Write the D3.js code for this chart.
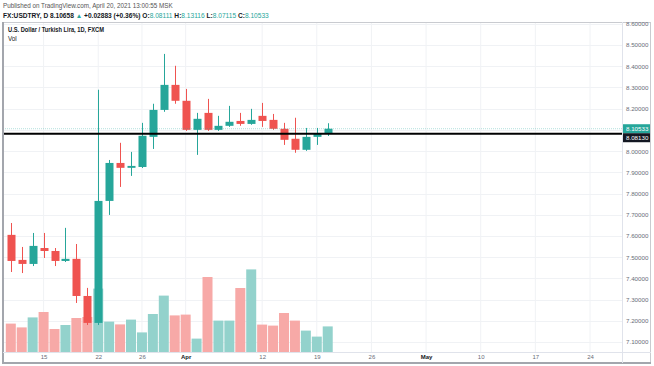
<!DOCTYPE html>
<html><head><meta charset="utf-8">
<script src="https://cdn.jsdelivr.net/npm/d3@7"></script>
<style>html,body{margin:0;padding:0;background:#fff;}svg{display:block;font-family:"Liberation Sans",Arial,sans-serif;}</style>
</head><body><svg id="c" width="654" height="366"></svg>
<script>
const dates = ["2021-03-10","2021-03-11","2021-03-12","2021-03-15","2021-03-16","2021-03-17","2021-03-18","2021-03-19",
"2021-03-22","2021-03-23","2021-03-24","2021-03-25","2021-03-26","2021-03-29","2021-03-30","2021-03-31","2021-04-01","2021-04-02",
"2021-04-05","2021-04-06","2021-04-07","2021-04-08","2021-04-09","2021-04-12","2021-04-13","2021-04-14","2021-04-15","2021-04-16",
"2021-04-19","2021-04-20"];
const opens  = [7.605,7.487,7.468,7.543,7.529,7.482,7.492,7.317,7.190,7.765,7.944,7.921,7.925,8.067,8.194,8.312,8.237,8.100,8.180,8.100,8.119,8.142,8.128,8.166,8.147,8.105,8.058,8.006,8.067,8.08111];
const highs  = [7.661,7.548,7.614,7.614,7.543,7.638,7.562,7.355,8.289,7.958,8.039,7.996,8.133,8.223,8.458,8.402,8.293,8.180,8.246,8.166,8.213,8.180,8.199,8.227,8.175,8.133,8.157,8.109,8.109,8.13116];
const lows   = [7.430,7.425,7.458,7.496,7.458,7.477,7.284,7.180,7.180,7.699,7.831,7.883,7.920,8.010,8.185,8.223,8.095,7.982,8.095,8.095,8.114,8.119,8.124,8.114,8.100,8.029,7.992,8.001,8.029,8.07115];
const closes = [7.482,7.468,7.553,7.529,7.482,7.492,7.317,7.190,7.765,7.944,7.921,7.930,8.072,8.194,8.312,8.237,8.100,8.152,8.100,8.119,8.138,8.128,8.147,8.142,8.105,8.053,8.006,8.067,8.081,8.10533];
const volumes = [14.2,12.3,17.3,20.0,11.5,13.5,17.0,17.5,31.7,15.2,13.8,16.2,9.8,19.0,28.2,18.3,18.7,6.7,37.5,15.7,15.7,32.0,41.3,13.7,13.2,19.5,15.7,10.7,7.7,12.8];
const priceTicks = [7.1,7.2,7.3,7.4,7.5,7.6,7.7,7.8,7.9,8.0,8.1,8.2,8.3,8.4,8.5,8.6];
const timeTickDates  = ["2021-03-15","2021-03-22","2021-03-26","2021-04-01","2021-04-12","2021-04-19","2021-04-26","2021-05-03","2021-05-10","2021-05-17","2021-05-24"];
const timeTickLabels = ["15","22","26","Apr","12","19","26","May","10","17","24"];
const lastPrice = 8.10533;
const hLinePrice = 8.08130;

const parse = d3.utcParse("%Y-%m-%d");
const start = parse(dates[0]);
function tradingIndex(s){
  const d = parse(s);
  return d3.utcDay.range(start, d).filter(x => x.getUTCDay()!==0 && x.getUTCDay()!==6).length;
}
const UP="#26a69a", DOWN="#ef5350", UPV="#93d2cc", DOWNV="#f7a9a7";
const svg = d3.select("#c");
const L=3, T=22, R=651, B=363, PA=622, TA=352;

const x = d3.scaleLinear().domain([0,53]).range([10.8,590]);
const y = d3.scaleLinear().domain([7.1,8.5]).range([342,45]);
const yv = d3.scaleLinear().domain([0,45]).range([TA,TA-90]);

// grid
const g = svg.append("g");
g.selectAll("line.vg").data(timeTickDates).join("line")
  .attr("x1",d=>x(tradingIndex(d))).attr("x2",d=>x(tradingIndex(d)))
  .attr("y1",T).attr("y2",TA).attr("stroke","#f0f2f5").attr("stroke-width",1);
g.selectAll("line.hg").data(priceTicks).join("line")
  .attr("x1",L).attr("x2",PA).attr("y1",d=>Math.round(y(d))+0.5).attr("y2",d=>Math.round(y(d))+0.5)
  .attr("stroke","#f0f2f5").attr("stroke-width",1);

const bars = dates.map((d,i)=>({i:tradingIndex(d),o:opens[i],h:highs[i],l:lows[i],c:closes[i],v:volumes[i]}));

// volume
svg.append("g").selectAll("rect").data(bars).join("rect")
  .attr("x",d=>x(d.i)-5).attr("width",10)
  .attr("y",d=>yv(d.v)).attr("height",d=>yv(0)-yv(d.v))
  .attr("fill",d=>d.c>=d.o?UPV:DOWNV);

// candles
const cg = svg.append("g");
cg.selectAll("line").data(bars).join("line")
  .attr("x1",d=>Math.round(x(d.i))+0.5).attr("x2",d=>Math.round(x(d.i))+0.5)
  .attr("y1",d=>y(d.h)).attr("y2",d=>y(d.l))
  .attr("stroke",d=>d.c>=d.o?UP:DOWN).attr("stroke-width",1);
cg.selectAll("rect").data(bars).join("rect")
  .attr("x",d=>Math.round(x(d.i))-3.5).attr("width",8)
  .attr("y",d=>y(Math.max(d.o,d.c))).attr("height",d=>Math.max(1.5,Math.abs(y(d.o)-y(d.c))))
  .attr("fill",d=>d.c>=d.o?UP:DOWN);

// last price dotted line
svg.append("line").attr("x1",L).attr("x2",PA).attr("y1",y(lastPrice)).attr("y2",y(lastPrice))
  .attr("stroke",UP).attr("stroke-opacity",0.35).attr("stroke-dasharray","1,1");
// horizontal black line
svg.append("line").attr("x1",L).attr("x2",PA).attr("y1",y(hLinePrice)).attr("y2",y(hLinePrice))
  .attr("stroke","#000").attr("stroke-width",2);

// frame
svg.append("rect").attr("x",L+0.5).attr("y",T+0.5).attr("width",R-L-1).attr("height",B-T-1)
  .attr("fill","none").attr("stroke","#c9cbd0");
svg.append("line").attr("x1",L).attr("x2",L).attr("y1",T).attr("y2",B+1).attr("stroke","#a3a6ad").attr("stroke-width",2);
svg.append("line").attr("x1",L).attr("x2",R).attr("y1",B).attr("y2",B).attr("stroke","#a3a6ad").attr("stroke-width",2);
svg.append("line").attr("x1",PA+0.5).attr("x2",PA+0.5).attr("y1",T).attr("y2",B).attr("stroke","#e0e3eb");
svg.append("line").attr("x1",L).attr("x2",R).attr("y1",TA+0.5).attr("y2",TA+0.5).attr("stroke","#e0e3eb");

// price axis
const pAxis = d3.axisRight(y).tickValues(priceTicks).tickFormat(d3.format(".5f")).tickSize(0).tickPadding(4);
const pa = svg.append("g").attr("transform",`translate(${PA},0)`).call(pAxis);
pa.select(".domain").remove();
pa.selectAll("text").attr("font-size",6.2).attr("fill","#6a6d78").attr("font-family","Liberation Sans, Arial, sans-serif");

// price labels
function plabel(cy, bg, txt){
  svg.append("rect").attr("x",PA+1).attr("y",cy-4.5).attr("width",R-PA-2).attr("height",9).attr("fill",bg);
  svg.append("text").attr("x",PA+4).attr("y",cy).attr("dy","0.35em").attr("font-size",6.2).attr("fill","#fff").text(txt);
}
plabel(y(lastPrice), UP, d3.format(".5f")(lastPrice));
plabel(y(lastPrice)+9, "#131722", d3.format(".5f")(hLinePrice));

// time axis
const tAxis = d3.axisBottom(x).tickValues(timeTickDates.map(tradingIndex)).tickFormat((d,i)=>timeTickLabels[i]).tickSize(0).tickPadding(3);
const ta = svg.append("g").attr("transform",`translate(0,${TA})`).call(tAxis);
ta.select(".domain").remove();
ta.selectAll("text").attr("font-size",6).attr("font-family","Liberation Sans, Arial, sans-serif")
  .attr("font-weight",(d,i)=>(timeTickLabels[i]==="Apr"||timeTickLabels[i]==="May")?"bold":"normal")
  .attr("fill",(d,i)=>(timeTickLabels[i]==="Apr"||timeTickLabels[i]==="May")?"#131722":"#6a6d78");

// header
svg.append("text").attr("x",3).attr("y",8).attr("font-size",6.3).attr("fill","#555")
  .text("Published on TradingView.com, April 20, 2021 13:00:55 MSK");
const h2 = svg.append("text").attr("x",3).attr("y",17.5).attr("font-size",6.6).attr("fill","#131722").attr("font-weight","bold");
h2.append("tspan").text("FX:USDTRY, D ");
h2.append("tspan").text("8.10658 ");
h2.append("tspan").attr("fill",UP).text("▲ ");
h2.append("tspan").text("+0.02883 (+0.36%) O:");
h2.append("tspan").attr("fill",UP).attr("font-weight","normal").text(d3.format(".5f")(opens[29]));
h2.append("tspan").text(" H:");
h2.append("tspan").attr("fill",UP).attr("font-weight","normal").text(d3.format(".5f")(highs[29]));
h2.append("tspan").text(" L:");
h2.append("tspan").attr("fill",UP).attr("font-weight","normal").text(d3.format(".5f")(lows[29]));
h2.append("tspan").text(" C:");
h2.append("tspan").attr("fill",UP).attr("font-weight","normal").text(d3.format(".5f")(closes[29]));

svg.append("text").attr("x",8).attr("y",32).attr("font-size",6.3).attr("fill","#131722").attr("font-weight",600)
  .attr("textLength",96).attr("lengthAdjust","spacingAndGlyphs")
  .text("U.S. Dollar / Turkish Lira, 1D, FXCM");
svg.append("text").attr("x",8).attr("y",41).attr("font-size",6.3).attr("fill","#131722").text("Vol");
</script></body></html>
